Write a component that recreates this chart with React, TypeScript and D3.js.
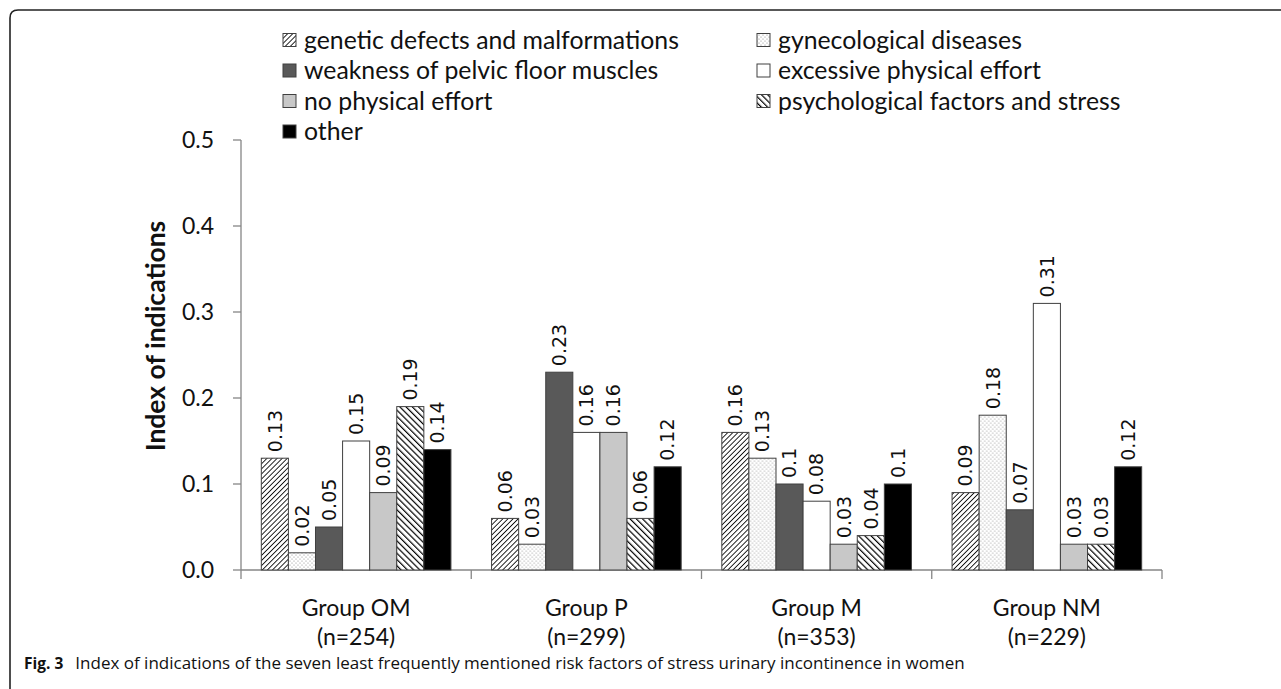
import React from 'react';
import * as d3 from 'd3';

// data
const groups = ['Group OM', 'Group P', 'Group M', 'Group NM'];
const groupN = ['(n=254)', '(n=299)', '(n=353)', '(n=229)'];
const factors = [
  'genetic defects and malformations',
  'gynecological diseases',
  'weakness of pelvic floor muscles',
  'excessive physical effort',
  'no physical effort',
  'psychological factors and stress',
  'other',
];
const omValues = [0.13, 0.02, 0.05, 0.15, 0.09, 0.19, 0.14];
const pValues = [0.06, 0.03, 0.23, 0.16, 0.16, 0.06, 0.12];
const mValues = [0.16, 0.13, 0.1, 0.08, 0.03, 0.04, 0.1];
const nmValues = [0.09, 0.18, 0.07, 0.31, 0.03, 0.03, 0.12];
const yTicks = [0, 0.1, 0.2, 0.3, 0.4, 0.5];

const seriesByGroup = [omValues, pValues, mValues, nmValues];

const W = 1281;
const H = 689;
const plot = { left: 241, right: 1162, top: 140, bottom: 570 };

const fills = ['url(#diagUp)', 'url(#dots)', '#595959', '#ffffff', '#c8c8c8', 'url(#diagDown)', '#000000'];

const FONT = 'Lato, "Open Sans", sans-serif';
const LABEL_FONT = '"DejaVu Sans", sans-serif';
const AXIS = '#868686';

const fmt = (v: number) => String(+v.toFixed(2));

export default function App() {
  const x0 = d3.scaleBand<string>().domain(groups).range([plot.left, plot.right]).padding(0);
  const x1 = d3.scaleBand<string>().domain(factors).range([0, x0.bandwidth()]).paddingInner(0).paddingOuter(0.75);
  const y = d3.scaleLinear().domain([0, 0.5]).range([plot.bottom, plot.top]);

  // legend layout: two columns, four rows
  const legCols = [283, 757];
  const legRowY = (r: number) => 40 + r * 30.5;

  return (
    <svg width={W} height={H} style={{ position: 'absolute', left: 0, top: 0, background: '#fff' }}>
      <defs>
        <pattern id="diagUp" patternUnits="userSpaceOnUse" width="3.6" height="3.6" patternTransform="rotate(45)">
          <rect width="3.6" height="3.6" fill="#fff" />
          <line x1="0" y1="0" x2="0" y2="3.6" stroke="#000" strokeWidth="1.7" />
        </pattern>
        <pattern id="diagDown" patternUnits="userSpaceOnUse" width="4.4" height="4.4" patternTransform="rotate(-45)">
          <rect width="4.4" height="4.4" fill="#fff" />
          <line x1="0" y1="0" x2="0" y2="4.4" stroke="#000" strokeWidth="2.4" />
        </pattern>
        <pattern id="dots" patternUnits="userSpaceOnUse" width="4" height="4">
          <rect width="4" height="4" fill="#fff" />
          <circle cx="1" cy="1" r="0.6" fill="#8a8a8a" />
          <circle cx="3" cy="3" r="0.6" fill="#8a8a8a" />
        </pattern>
      </defs>

      {/* figure frame */}
      <path d={`M10,${H} L10,18 Q10,10 18,10 L${W},10`} fill="none" stroke="#222" strokeWidth={1.6} />

      {/* legend */}
      {factors.map((f, i) => {
        const col = i % 2;
        const row = Math.floor(i / 2);
        const cy = legRowY(row);
        return (
          <g key={f}>
            <rect x={legCols[col]} y={cy - 6.5} width={13} height={13} fill={fills[i]} stroke="#404040" strokeWidth={1} />
            <text x={legCols[col] + 21} y={cy} dy="0.36em" fontFamily={FONT} fontSize={24.8} fill="#111">
              {f}
            </text>
          </g>
        );
      })}

      {/* y axis */}
      <line x1={plot.left} x2={plot.left} y1={plot.top} y2={plot.bottom} stroke={AXIS} strokeWidth={1.3} />
      {yTicks.map((t) => (
        <g key={t}>
          <line x1={plot.left - 8} x2={plot.left} y1={y(t)} y2={y(t)} stroke={AXIS} strokeWidth={1.3} />
          <text x={plot.left - 27} y={y(t)} dy="0.36em" textAnchor="end" fontFamily={FONT} fontSize={23} fill="#111">
            {t.toFixed(1)}
          </text>
        </g>
      ))}
      <text
        transform="translate(155,336) rotate(-90)"
        textAnchor="middle"
        dy="0.36em"
        fontFamily={FONT}
        fontWeight="bold"
        fontSize={26.5}
        fill="#111"
      >
        Index of indications
      </text>

      {/* x axis */}
      <line x1={plot.left} x2={plot.right} y1={plot.bottom} y2={plot.bottom} stroke={AXIS} strokeWidth={1.3} />
      {[...groups.map((g) => x0(g)!), plot.right].map((bx, i) => (
        <line key={i} x1={bx} x2={bx} y1={plot.bottom} y2={plot.bottom + 9} stroke={AXIS} strokeWidth={1.3} />
      ))}
      {groups.map((g, i) => {
        const cx = x0(g)! + x0.bandwidth() / 2;
        return (
          <g key={g} fontFamily={FONT} fontSize={23} fill="#111" textAnchor="middle">
            <text x={cx} y={616}>{g}</text>
            <text x={cx} y={645}>{groupN[i]}</text>
          </g>
        );
      })}

      {/* bars */}
      {groups.map((g, gi) => (
        <g key={g} transform={`translate(${x0(g)},0)`}>
          {factors.map((f, fi) => {
            const v = seriesByGroup[gi][fi];
            const bx = x1(f)!;
            const by = y(v);
            return (
              <g key={f}>
                <rect
                  x={bx}
                  y={by}
                  width={x1.bandwidth()}
                  height={plot.bottom - by}
                  fill={fills[fi]}
                  stroke="#404040"
                  strokeWidth={1}
                />
                <text
                  transform={`translate(${bx + x1.bandwidth() / 2},${by - 6}) rotate(-90)`}
                  dy="0.36em"
                  fontFamily={LABEL_FONT}
                  fontSize={19}
                  fill="#111"
                >
                  {fmt(v)}
                </text>
              </g>
            );
          })}
        </g>
      ))}

      {/* caption */}
      <text x={24} y={669} fontFamily='"Open Sans", sans-serif' fill="#111">
        <tspan fontWeight="bold" fontSize={15.5}>Fig. 3</tspan>
        <tspan dx={12} fontSize={17}>Index of indications of the seven least frequently mentioned risk factors of stress urinary incontinence in women</tspan>
      </text>
    </svg>
  );
}
